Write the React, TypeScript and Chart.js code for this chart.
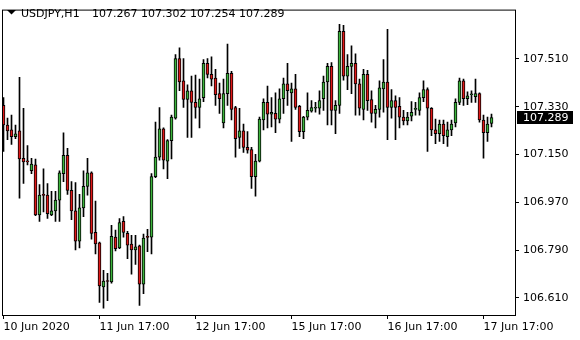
import { useEffect, useRef } from "react";
import { Chart, registerables } from "chart.js";

Chart.register(...registerables);

const symbolTitle = "USDJPY,H1";

const opens = [
  107.335, 107.261, 107.243, 107.217, 107.239, 107.136, 107.125, 107.089, 107.111, 106.923,
  106.997, 106.997, 106.923, 106.938, 106.978, 107.078, 107.147, 107.015, 106.938, 106.824,
  106.949, 107.030, 107.081, 106.857, 106.817, 106.651, 106.673, 106.670, 106.839, 106.798,
  106.898, 106.853, 106.813, 106.791, 106.806, 106.662, 106.839, 106.839, 107.067, 107.140,
  107.247, 107.125, 107.202, 107.287, 107.511, 107.427, 107.357, 107.390, 107.346, 107.327,
  107.364, 107.493, 107.452, 107.438, 107.379, 107.269, 107.379, 107.456, 107.327, 107.214,
  107.239, 107.177, 107.169, 107.067, 107.125, 107.280, 107.346, 107.302, 107.305, 107.283,
  107.360, 107.416, 107.382, 107.397, 107.331, 107.236, 107.291, 107.313, 107.324, 107.324,
  107.360, 107.423, 107.482, 107.316, 107.335, 107.614, 107.445, 107.482, 107.493, 107.416,
  107.320, 107.452, 107.357, 107.305, 107.320, 107.397, 107.423, 107.327, 107.353, 107.331,
  107.291, 107.276, 107.294, 107.320, 107.316, 107.364, 107.394, 107.324, 107.243, 107.228,
  107.265, 107.217, 107.243, 107.269, 107.346, 107.427, 107.360, 107.375, 107.368, 107.379,
  107.280, 107.232, 107.267,
];

const highs = [
  107.364, 107.287, 107.298, 107.261, 107.441, 107.324, 107.184, 107.136, 107.133, 107.037,
  107.096, 107.041, 107.011, 107.011, 107.089, 107.232, 107.173, 107.048, 107.044, 107.000,
  107.089, 107.136, 107.085, 106.975, 106.820, 106.714, 106.703, 106.883, 106.865, 106.909,
  106.916, 106.861, 106.846, 106.846, 106.809, 106.850, 106.868, 107.078, 107.272, 107.327,
  107.250, 107.206, 107.298, 107.526, 107.552, 107.511, 107.412, 107.445, 107.449, 107.434,
  107.507, 107.511, 107.518, 107.471, 107.419, 107.434, 107.566, 107.463, 107.331, 107.324,
  107.265, 107.236, 107.177, 107.151, 107.291, 107.360, 107.408, 107.364, 107.382, 107.397,
  107.438, 107.493, 107.419, 107.452, 107.335, 107.294, 107.382, 107.353, 107.346, 107.390,
  107.445, 107.493, 107.496, 107.353, 107.640, 107.636, 107.526, 107.559, 107.529, 107.434,
  107.471, 107.467, 107.390, 107.335, 107.427, 107.507, 107.621, 107.394, 107.371, 107.364,
  107.316, 107.309, 107.349, 107.346, 107.382, 107.427, 107.401, 107.327, 107.283, 107.280,
  107.280, 107.272, 107.280, 107.360, 107.438, 107.434, 107.386, 107.390, 107.434, 107.382,
  107.298, 107.291, 107.302,
];

const lows = [
  107.162, 107.206, 107.188, 107.210, 106.986, 107.041, 107.111, 107.078, 106.920, 106.898,
  106.934, 106.909, 106.920, 106.898, 106.898, 107.048, 107.000, 106.905, 106.791, 106.798,
  106.916, 106.997, 106.831, 106.776, 106.593, 106.571, 106.600, 106.666, 106.787, 106.795,
  106.839, 106.758, 106.699, 106.736, 106.582, 106.626, 106.784, 106.776, 107.063, 107.129,
  107.096, 107.059, 107.133, 107.283, 107.390, 107.327, 107.214, 107.214, 107.287, 107.250,
  107.349, 107.438, 107.408, 107.335, 107.305, 107.250, 107.335, 107.280, 107.140, 107.173,
  107.158, 107.155, 107.022, 106.993, 107.122, 107.243, 107.250, 107.254, 107.232, 107.269,
  107.305, 107.335, 107.199, 107.320, 107.217, 107.210, 107.280, 107.309, 107.309, 107.302,
  107.316, 107.261, 107.261, 107.228, 107.305, 107.430, 107.394, 107.379, 107.298, 107.298,
  107.280, 107.316, 107.272, 107.250, 107.291, 107.309, 107.206, 107.287, 107.206, 107.250,
  107.261, 107.261, 107.276, 107.298, 107.298, 107.349, 107.162, 107.221, 107.191, 107.199,
  107.191, 107.180, 107.221, 107.254, 107.338, 107.335, 107.338, 107.346, 107.346, 107.272,
  107.136, 107.199, 107.254,
];

const closes = [
  107.261, 107.239, 107.217, 107.228, 107.133, 107.122, 107.122, 107.114, 106.923, 106.997,
  106.996, 106.927, 106.938, 106.978, 107.081, 107.147, 107.015, 106.938, 106.824, 106.949,
  107.030, 107.081, 106.853, 106.813, 106.655, 106.673, 106.672, 106.842, 106.795, 106.894,
  106.857, 106.809, 106.791, 106.802, 106.662, 106.835, 106.838, 107.067, 107.140, 107.247,
  107.129, 107.202, 107.291, 107.511, 107.423, 107.357, 107.390, 107.346, 107.327, 107.360,
  107.493, 107.452, 107.434, 107.375, 107.360, 107.379, 107.456, 107.320, 107.210, 107.239,
  107.177, 107.166, 107.067, 107.125, 107.283, 107.346, 107.302, 107.309, 107.283, 107.360,
  107.416, 107.390, 107.397, 107.327, 107.236, 107.291, 107.316, 107.327, 107.328, 107.353,
  107.423, 107.482, 107.316, 107.335, 107.614, 107.445, 107.482, 107.493, 107.416, 107.324,
  107.452, 107.353, 107.305, 107.320, 107.401, 107.423, 107.327, 107.353, 107.327, 107.291,
  107.276, 107.291, 107.309, 107.321, 107.364, 107.394, 107.324, 107.243, 107.228, 107.265,
  107.221, 107.243, 107.265, 107.346, 107.427, 107.360, 107.371, 107.376, 107.379, 107.280,
  107.232, 107.265, 107.289,
];

const timeTickIndex = [0, 24, 48, 72, 96, 120];
const timeTickLabels = [
  "10 Jun 2020",
  "11 Jun 17:00",
  "12 Jun 17:00",
  "15 Jun 17:00",
  "16 Jun 17:00",
  "17 Jun 17:00",
];
const priceTicks = [106.61, 106.79, 106.97, 107.15, 107.33, 107.51];

const UP_COLOR = "#3cb43c";
const DOWN_COLOR = "#e01818";
const FONT = '"DejaVu Sans", Verdana, sans-serif';

export default function App() {
  const ref = useRef<HTMLCanvasElement>(null);

  useEffect(() => {
    const canvas = ref.current;
    if (!canvas) return;
    const idx = opens.map((_, i) => i);
    const last = opens.length - 1;

    const framePlugin = {
      id: "mtFrame",
      afterDraw(chart: any) {
        const { ctx, chartArea } = chart;
        ctx.save();
        ctx.strokeStyle = "#000";
        ctx.lineWidth = 1;
        ctx.strokeRect(
          chartArea.left - 0.5,
          chartArea.top - 0.5,
          chartArea.right - chartArea.left + 1,
          chartArea.bottom - chartArea.top + 1
        );
        // title: triangle + symbol + OHLC
        ctx.fillStyle = "#000";
        ctx.beginPath();
        ctx.moveTo(7, 10);
        ctx.lineTo(16, 10);
        ctx.lineTo(11.5, 14.5);
        ctx.closePath();
        ctx.fill();
        ctx.font = `11px ${FONT}`;
        ctx.textBaseline = "alphabetic";
        ctx.textAlign = "left";
        ctx.fillStyle = "#000";
        ctx.fillText(symbolTitle, 21, 17);
        const ohlc = [opens[last], highs[last], lows[last], closes[last]]
          .map((v) => v.toFixed(3))
          .join(" ");
        ctx.fillText(ohlc, 92, 17);
        // current price box
        const y = chart.scales.y.getPixelForValue(closes[last]);
        const top = Math.floor(y) - 6;
        ctx.fillStyle = "#000";
        ctx.fillRect(chartArea.right + 2, top, 56, 13);
        ctx.fillStyle = "#fff";
        ctx.textBaseline = "middle";
        ctx.fillText(closes[last].toFixed(3), chartArea.right + 8, top + 7);
        ctx.restore();
      },
    };

    const chart = new Chart(canvas, {
      type: "bar",
      data: {
        datasets: [
          {
            label: "body",
            data: idx.map((i) => ({ x: i, y: [opens[i], closes[i]] })) as any,
            backgroundColor: idx.map((i) => (closes[i] >= opens[i] ? UP_COLOR : DOWN_COLOR)),
            borderColor: "#000",
            borderWidth: 1,
            borderSkipped: false,
            barThickness: 3,
            minBarLength: 1,
            grouped: false,
            order: 0,
          } as any,
          {
            label: "wick",
            data: idx.map((i) => ({ x: i, y: [lows[i], highs[i]] })) as any,
            backgroundColor: "#000",
            borderWidth: 0,
            barThickness: 1,
            grouped: false,
            order: 1,
          } as any,
        ],
      },
      options: {
        responsive: false,
        animation: false,
        devicePixelRatio: 1,
        events: [],
        layout: { padding: { left: 3, top: 3, right: 0, bottom: 0 } },
        plugins: {
          legend: { display: false },
          tooltip: { enabled: false },
          title: { display: false },
        },
        scales: {
          x: {
            type: "linear",
            offset: false,
            min: -0.125,
            max: 127.875,
            afterBuildTicks: (s: any) => {
              s.ticks = timeTickIndex.map((v) => ({ value: v }));
            },
            afterFit: (s: any) => {
              s.height = 25;
            },
            grid: {
              offset: false,
              drawOnChartArea: false,
              drawTicks: true,
              tickLength: 4,
              color: "#000",
              lineWidth: 1,
            },
            border: { display: false },
            ticks: {
              align: "start",
              autoSkip: false,
              maxRotation: 0,
              minRotation: 0,
              padding: 2,
              color: "#000",
              font: { family: FONT, size: 11 },
              callback: (_v: any, i: number) => timeTickLabels[i],
            },
          } as any,
          y: {
            type: "linear",
            position: "right",
            min: 106.54571,
            max: 107.69184,
            afterBuildTicks: (s: any) => {
              s.ticks = priceTicks.map((v) => ({ value: v }));
            },
            afterFit: (s: any) => {
              s.width = 65;
            },
            grid: {
              drawOnChartArea: false,
              drawTicks: true,
              tickLength: 4,
              color: "#000",
              lineWidth: 1,
            },
            border: { display: false },
            ticks: {
              autoSkip: false,
              padding: 4,
              color: "#000",
              font: { family: FONT, size: 11 },
              callback: (v: any) => Number(v).toFixed(3),
            },
          } as any,
        },
      },
      plugins: [framePlugin],
    });

    return () => chart.destroy();
  }, []);

  return (
    <div
      style={{
        position: "fixed",
        left: 0,
        top: 0,
        width: 580,
        height: 340,
        background: "#fff",
      }}
    >
      <canvas ref={ref} width={580} height={340} style={{ display: "block", width: 580, height: 340 }} />
    </div>
  );
}
